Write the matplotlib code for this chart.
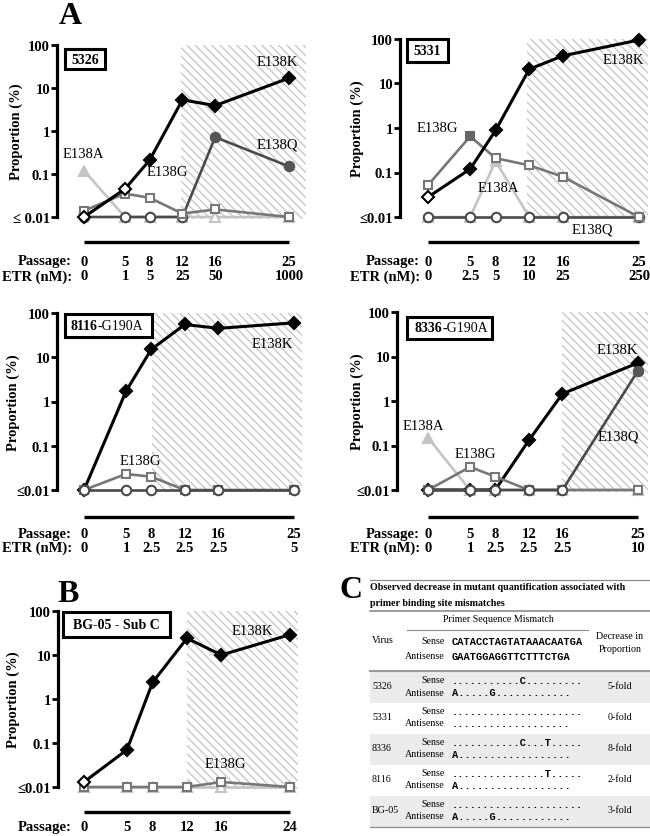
import matplotlib
matplotlib.use("Agg")
import matplotlib.pyplot as plt
from matplotlib.transforms import blended_transform_factory
from matplotlib.patches import Rectangle
from matplotlib.lines import Line2D
from matplotlib.ticker import NullLocator

plt.rcParams['font.family'] = ['Liberation Serif', 'DejaVu Serif']
plt.rcParams['hatch.color'] = '#c8c8c8'
plt.rcParams['hatch.linewidth'] = 1.0

W, H = 650, 837
fig = plt.figure(figsize=(6.5, 8.37), dpi=100)


def fx(px):
    return px / W


def fy(py):
    return 1 - py / H


# ---------------- data ----------------
passages_A = [0, 5, 8, 12, 16, 25]
passages_B = [0, 5, 8, 12, 16, 24]

etr_5326 = ["0", "1", "5", "25", "50", "1000"]
etr_5331 = ["0", "2.5", "5", "10", "25", "250"]
etr_8116 = ["0", "1", "2.5", "2.5", "2.5", "5"]
etr_8336 = ["0", "1", "2.5", "2.5", "2.5", "10"]

ytick_vals = [0.01, 0.1, 1, 10, 100]

# 5326
k_5326 = [0.01, 0.045, 0.21, 5.3, 3.9, 17]
k_5326_filled = [False, False, True, True, True, True]
q_5326 = [0.01, 0.01, 0.01, 0.01, 0.72, 0.15]
q_5326_filled = [False, False, False, False, True, True]
g_5326 = [0.014, 0.035, 0.028, 0.012, 0.015, 0.01]
g_5326_filled = [False] * 6
a_5326 = [0.12, 0.01, 0.01, 0.01, 0.01, 0.01]
a_5326_filled = [True, False, False, False, False, False]

# 5331
k_5331 = [0.028, 0.12, 0.88, 21, 42, 95]
k_5331_filled = [False, True, True, True, True, True]
g_5331 = [0.052, 0.65, 0.21, 0.145, 0.08, 0.01]
g_5331_filled = [False, True, False, False, False, False]
a_5331 = [0.01, 0.01, 0.18, 0.01, 0.01, 0.01]
a_5331_filled = [False, False, True, False, False, False]
q_5331 = [0.01, 0.01, 0.01, 0.01, 0.01, 0.01]
q_5331_filled = [False] * 6

# 8116-G190A
k_8116 = [0.01, 1.7, 15, 55, 45, 60]
k_8116_filled = [False, True, True, True, True, True]
g_8116 = [0.01, 0.023, 0.02, 0.01, 0.01, 0.01]
g_8116_filled = [False] * 6
q_8116 = [0.01, 0.01, 0.01, 0.01, 0.01, 0.01]
q_8116_filled = [False] * 6

# 8336-G190A
k_8336 = [0.01, 0.01, 0.01, 0.13, 1.45, 7.2]
k_8336_filled = [False, False, False, True, True, True]
q_8336 = [0.01, 0.01, 0.01, 0.01, 0.01, 4.8]
q_8336_filled = [False, False, False, False, False, True]
g_8336 = [0.01, 0.033, 0.02, 0.01, 0.01, 0.01]
g_8336_filled = [False] * 6
a_8336 = [0.15, 0.01, 0.01, 0.01, 0.01, 0.01]
a_8336_filled = [True, False, False, False, False, False]

# BG-05 Sub C
k_bg05 = [0.013, 0.07, 2.4, 24, 10, 29]
k_bg05_filled = [False, True, True, True, True, True]
g_bg05 = [0.01, 0.01, 0.01, 0.01, 0.013, 0.01]
g_bg05_filled = [False] * 6
a_bg05 = [0.01, 0.01, 0.01, 0.01, 0.01, 0.01]
a_bg05_filled = [False] * 6

# table C
table_title = ["Observed decrease in mutant quantification associated with",
               "primer binding site mismatches"]
primer_sense = "CATACCTAGTATAAACAATGA"
primer_antisense = "GAATGGAGGTTCTTTCTGA"
viruses = ["5326", "5331", "8336", "8116", "BG-05"]
sense_mm = ["...........C.........",
            ".....................",
            "...........C...T.....",
            "...............T.....",
            "....................."]
antisense_mm = ["A.....G............",
                "...................",
                "A..................",
                "A..................",
                "A.....G............"]
fold_decrease = ["5-fold", "0-fold", "8-fold", "2-fold", "3-fold"]

# ---------------- styles ----------------
styles = {
    'E138K': dict(marker='D', color='black', fill='black', ms=6.3, lw=2.2),
    'E138Q': dict(marker='o', color='#4a4a4a', fill='#555555', ms=6.8, lw=1.9),
    'E138G': dict(marker='s', color='#777777', fill='#666666', ms=6.3, lw=1.9),
    'E138A': dict(marker='^', color='#c4c4c4', fill='#c4c4c4', ms=7.5, lw=1.9),
}

TICK_FS = 10.5
LAB_FS = 10.5
SER_FS = 10.5


def draw_series(ax, x, vals, filled, name, z):
    st = styles[name]
    ax.plot(x, vals, color=st['color'], lw=st['lw'], zorder=z, clip_on=False,
            solid_joinstyle='miter')
    for xi, v, f in zip(x, vals, filled):
        ax.plot([xi], [v], linestyle='none', marker=st['marker'], ms=st['ms'],
                mfc=st['fill'] if f else 'white',
                mec=st['fill'] if f else st['color'],
                mew=1.5, zorder=z + 0.5, clip_on=False)


def panel(spine_x, p0_x, pend_x, pend, y100, y001, hs_x, he_x, bar_y,
          lab_y1, lab_y2, passages, etr, label_right, ylab_x, series,
          texts, ytl):
    s = pend / (pend_x - p0_x)
    x0 = (spine_x - p0_x) * s
    x1 = (he_x - p0_x) * s
    ax = fig.add_axes([fx(spine_x), fy(y001), fx(he_x) - fx(spine_x),
                       (y001 - y100) / H])
    ax.set_xlim(x0, x1)
    ax.set_yscale('log')
    ax.set_ylim(0.01, 100)
    for sp in ['top', 'right', 'bottom']:
        ax.spines[sp].set_visible(False)
    ax.spines['left'].set_linewidth(2.3)
    ax.set_xticks([])
    ax.set_yticks(ytick_vals)
    ax.set_yticklabels(ytl, fontweight='bold', fontsize=TICK_FS)
    ax.yaxis.set_minor_locator(NullLocator())
    ax.tick_params(axis='y', length=4, width=2.0, pad=1.0)
    ax.patch.set_visible(False)
    hs = (hs_x - p0_x) * s
    ax.axvspan(hs, x1, ymin=-0.012, ymax=1, facecolor='none',
               edgecolor='#c8c8c8', lw=0, hatch='\\\\\\\\', zorder=0,
               clip_on=False)
    for (name, vals, filled, z) in series:
        draw_series(ax, passages, vals, filled, name, z)
    tr = blended_transform_factory(ax.transData, fig.transFigure)
    ax.plot([0, pend], [fy(bar_y)] * 2, transform=tr, color='black', lw=2.4,
            clip_on=False, solid_capstyle='butt')
    fig.text(fx(label_right), fy(lab_y1), "Passage:", ha='right', va='center',
             fontweight='bold', fontsize=LAB_FS)
    for p in passages:
        ax.text(p, fy(lab_y1), str(p), transform=tr, ha='center', va='center',
                fontweight='bold', fontsize=LAB_FS)
    if etr is not None:
        fig.text(fx(label_right), fy(lab_y2), "ETR (nM):", ha='right',
                 va='center', fontweight='bold', fontsize=LAB_FS)
        for p, e in zip(passages, etr):
            ax.text(p, fy(lab_y2), e, transform=tr, ha='center', va='center',
                    fontweight='bold', fontsize=LAB_FS)
    fig.text(fx(ylab_x), fy((y100 + y001) / 2), "Proportion (%)", rotation=90,
             ha='center', va='center', fontweight='bold', fontsize=10.5)
    for (t, px, py) in texts:
        fig.text(fx(px), fy(py), t, ha='center', va='center', fontsize=SER_FS)
    return ax


def box(x0, y0, x1, y1):
    fig.add_artist(Rectangle((fx(x0), fy(y1)), fx(x1) - fx(x0), (y1 - y0) / H,
                             transform=fig.transFigure, facecolor='white',
                             edgecolor='black', lw=2.2, zorder=10))


ytl_a = ["\u2264 0.01", "0.1", "1", "10", "100"]
ytl_b = ["\u22640.01", "0.1", "1", "10", "100"]

# ---- A1: 5326
panel(57, 84, 289, 25, 46, 218, 181, 306, 243, 262, 277, passages_A, etr_5326,
      72, 16,
      [('E138A', a_5326, a_5326_filled, 2), ('E138Q', q_5326, q_5326_filled, 3),
       ('E138G', g_5326, g_5326_filled, 4), ('E138K', k_5326, k_5326_filled, 5)],
      [('E138K', 277, 63), ('E138Q', 277, 145), ('E138A', 83, 155),
       ('E138G', 167, 173)], ytl_a)
box(65, 50, 105, 70)
fig.text(fx(85), fy(60), "5326", ha='center', va='center', fontweight='bold',
         fontsize=10, zorder=11)

# ---- A2: 5331
panel(400, 428, 639, 25, 40, 218, 527, 648, 243, 262, 277, passages_A, etr_5331,
      420, 357,
      [('E138A', a_5331, a_5331_filled, 2), ('E138Q', q_5331, q_5331_filled, 3),
       ('E138G', g_5331, g_5331_filled, 4), ('E138K', k_5331, k_5331_filled, 5)],
      [('E138K', 623, 61), ('E138G', 437, 129), ('E138A', 498, 188),
       ('E138Q', 592, 230)], ytl_b)
box(407, 40, 448, 63)
fig.text(fx(427.5), fy(51.5), "5331", ha='center', va='center',
         fontweight='bold', fontsize=10, zorder=11)

# ---- A3: 8116-G190A
panel(57, 84, 294, 25, 314, 491, 152, 302, 518, 535, 548, passages_A, etr_8116,
      72, 13,
      [('E138K', k_8116, k_8116_filled, 2), ('E138G', g_8116, g_8116_filled, 3),
       ('E138Q', q_8116, q_8116_filled, 4)],
      [('E138K', 272, 345), ('E138G', 140, 462)], ytl_b)
box(65, 315, 152, 338)
fig.text(fx(97), fy(326.5), "8116", ha='right', va='center', fontweight='bold',
         fontsize=10, zorder=11)
fig.text(fx(97), fy(326.5), "-G190A", ha='left', va='center', fontsize=10,
         zorder=11)

# ---- A4: 8336-G190A
panel(397, 428, 638, 25, 313, 491, 562, 648, 518, 535, 548, passages_A, etr_8336,
      420, 357,
      [('E138A', a_8336, a_8336_filled, 2), ('E138K', k_8336, k_8336_filled, 3),
       ('E138G', g_8336, g_8336_filled, 4), ('E138Q', q_8336, q_8336_filled, 5)],
      [('E138K', 617, 350), ('E138Q', 618, 437), ('E138A', 423, 427),
       ('E138G', 475, 455)], ytl_b)
box(407, 318, 492, 340)
fig.text(fx(442), fy(329), "8336", ha='right', va='center', fontweight='bold',
         fontsize=10, zorder=11)
fig.text(fx(442), fy(329), "-G190A", ha='left', va='center', fontsize=10,
         zorder=11)

# ---- B: BG-05 Sub C
panel(58, 84, 290, 24, 612, 788, 187, 298, 813, 828, None, passages_B, None,
      72, 13,
      [('E138A', a_bg05, a_bg05_filled, 2), ('E138G', g_bg05, g_bg05_filled, 3),
       ('E138K', k_bg05, k_bg05_filled, 5)],
      [('E138K', 252, 632), ('E138G', 225, 765)], ytl_b)
box(63, 613, 170, 638)
fig.text(fx(116.5), fy(625.5), "BG-05 - Sub C", ha='center', va='center',
         fontweight='bold', fontsize=10, zorder=11)

# panel letters
fig.text(fx(70), fy(16), "A", ha='center', va='center', fontweight='bold',
         fontsize=23)
fig.text(fx(68), fy(594), "B", ha='center', va='center', fontweight='bold',
         fontsize=23)
fig.text(fx(351), fy(591), "C", ha='center', va='center', fontweight='bold',
         fontsize=23)

# ---------------- table C ----------------
def hline(y, x0, x1, lw=1.0, color='#8c8c8c'):
    fig.add_artist(Line2D([fx(x0), fx(x1)], [fy(y), fy(y)],
                          transform=fig.transFigure, color=color, lw=lw))


TFS = 7.2
SEQ_FS = 7.5
MONO = ['Liberation Mono', 'DejaVu Sans Mono']
hline(581, 370, 650, lw=0.9)
fig.text(fx(370), fy(588), table_title[0], ha='left', va='center',
         fontweight='bold', fontsize=TFS)
fig.text(fx(370), fy(603), table_title[1], ha='left', va='center',
         fontweight='bold', fontsize=TFS)
hline(612, 370, 650, lw=1.2)
fig.text(fx(498), fy(620), "Primer Sequence Mismatch", ha='center', va='center',
         fontsize=TFS)
hline(631, 407, 588, lw=0.8)
fig.text(fx(372), fy(641), "Virus", ha='left', va='center', fontsize=TFS)
fig.text(fx(620), fy(637), "Decrease in", ha='center', va='center', fontsize=TFS)
fig.text(fx(620), fy(650), "Proportion", ha='center', va='center', fontsize=TFS)
fig.text(fx(445), fy(642), "Sense", ha='right', va='center', fontsize=TFS)
fig.text(fx(445), fy(657), "Antisense", ha='right', va='center', fontsize=TFS)
fig.text(fx(452), fy(642), primer_sense, ha='left', va='center',
         fontsize=SEQ_FS, family=MONO, fontweight='bold')
fig.text(fx(452), fy(657), primer_antisense, ha='left', va='center',
         fontsize=SEQ_FS, family=MONO, fontweight='bold')

row_top0 = 673
row_h = 31
for i, v in enumerate(viruses):
    top = row_top0 + row_h * i
    if i % 2 == 0:
        fig.add_artist(Rectangle((fx(370), fy(top + row_h)), fx(650) - fx(370),
                                 row_h / H, transform=fig.transFigure,
                                 facecolor='#ebebeb', edgecolor='none',
                                 zorder=0))
    fig.text(fx(372), fy(top + 14), v, ha='left', va='center', fontsize=TFS)
    fig.text(fx(445), fy(top + 8), "Sense", ha='right', va='center',
             fontsize=TFS)
    fig.text(fx(445), fy(top + 20), "Antisense", ha='right', va='center',
             fontsize=TFS)
    fig.text(fx(452), fy(top + 8), sense_mm[i], ha='left', va='center',
             fontsize=SEQ_FS, family=MONO, fontweight='bold')
    fig.text(fx(452), fy(top + 20), antisense_mm[i], ha='left', va='center',
             fontsize=SEQ_FS, family=MONO, fontweight='bold')
    fig.text(fx(620), fy(top + 14), fold_decrease[i], ha='center', va='center',
             fontsize=TFS)
hline(672, 370, 650, lw=1.5, color='#9a9a9a')
hline(828, 370, 650, lw=0.9)

fig.savefig("out.png", dpi=100)
